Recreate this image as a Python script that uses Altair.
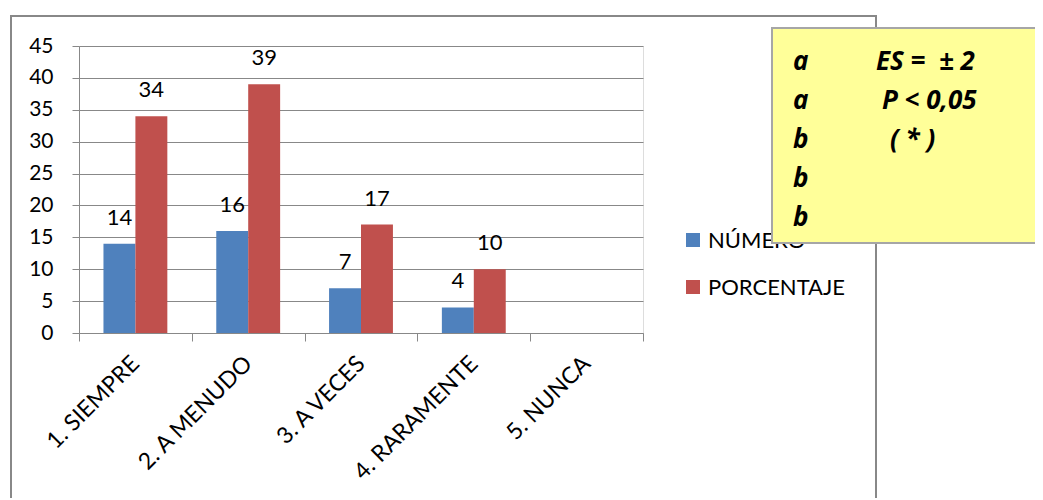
import altair as alt
import pandas as pd

# ---- data ----
categories = ["1. SIEMPRE", "2. A MENUDO", "3. A VECES", "4. RARAMENTE", "5. NUNCA"]
series = ["NÚMERO", "PORCENTAJE"]
numero = [14, 16, 7, 4, None]
porcentaje = [34, 39, 17, 10, None]
y_ticks = [0, 5, 10, 15, 20, 25, 30, 35, 40, 45]
box_letters = ["a", "a", "b", "b", "b"]
box_notes = ["ES =\u00a0\u00a0± 2", "P < 0,05", "( * )", "", ""]
colors = ["#4F81BD", "#C0504D"]

# styling (not data)
note_indent = [0, 6, 14, 0, 0]

rows = []
for i, c in enumerate(categories):
    for s, vals in zip(series, [numero, porcentaje]):
        if vals[i] is not None:
            rows.append({"cat": c, "serie": s, "valor": vals[i]})
df = pd.DataFrame(rows)

FONT = "Lato"
BOX_FONT = "Open Sans"
GRAY = "#888888"
W, H = 564, 287

x_enc = alt.X(
    "cat:N",
    sort=categories,
    scale=alt.Scale(domain=categories, paddingInner=0, paddingOuter=0),
    axis=alt.Axis(
        title=None, labelAngle=-45, labelFontSize=23, labelFont=FONT,
        labelColor="black", tickBand="extent", tickSize=8, tickColor=GRAY,
        domainColor=GRAY, labelPadding=11, labelOffset=-8, grid=False,
    ),
)
xoff_enc = alt.XOffset(
    "serie:N", scale=alt.Scale(domain=series, paddingOuter=0.766, paddingInner=0)
)
y_enc = alt.Y(
    "valor:Q",
    scale=alt.Scale(domain=[0, 45], nice=False, zero=True),
    axis=alt.Axis(
        title=None, values=y_ticks, grid=True, gridColor=GRAY, tickSize=7,
        tickColor=GRAY, domainColor=GRAY, labelFontSize=21, labelFont=FONT,
        labelColor="black", labelPadding=19,
    ),
)
color_enc = alt.Color(
    "serie:N", scale=alt.Scale(domain=series, range=colors), legend=None
)

one = pd.DataFrame({"k": [0]})

frame = alt.Chart(one).mark_rect(
    fill=None, stroke=GRAY, strokeWidth=2
).encode(
    x=alt.value(-68), x2=alt.value(797), y=alt.value(-30), y2=alt.value(470)
)

bars = alt.Chart(df).mark_bar().encode(
    x=x_enc, xOffset=xoff_enc, y=y_enc, color=color_enc
)

labels = alt.Chart(df).mark_text(
    dy=-26, fontSize=22, font=FONT, color="black"
).encode(x=x_enc, xOffset=xoff_enc, y=y_enc, text="valor:Q")

# manual legend (so the yellow note box can overlap it as in the original)
legend_layers = []
for i, (s, col) in enumerate(zip(series, colors)):
    legend_layers.append(
        alt.Chart(pd.DataFrame({"serie": [s]})).mark_square(
            size=196, color=col, opacity=1, filled=True
        ).encode(x=alt.value(614), y=alt.value(194 + 47 * i))
    )
    legend_layers.append(
        alt.Chart(pd.DataFrame({"serie": [s]})).mark_text(
            align="left", baseline="alphabetic", fontSize=22, font=FONT,
            color="black",
        ).encode(x=alt.value(629), y=alt.value(202 + 47 * i), text="serie:N")
    )

note_box = alt.Chart(one).mark_rect(
    fill="#FFFF99", stroke="#A6A6A6", strokeWidth=2
).encode(
    x=alt.value(693), x2=alt.value(990), y=alt.value(-18), y2=alt.value(197)
)

note_layers = []
for i, (letter, note) in enumerate(zip(box_letters, box_notes)):
    d = pd.DataFrame({"letra": [letter], "nota": [note]})
    note_layers.append(
        alt.Chart(d).mark_text(
            align="left", baseline="alphabetic", fontSize=26, font=BOX_FONT,
            fontWeight="bold", fontStyle="italic", color="black",
        ).encode(x=alt.value(714), y=alt.value(24 + 39 * i), text="letra:N")
    )
    if note:
        note_layers.append(
            alt.Chart(d).mark_text(
                align="left", baseline="alphabetic", fontSize=26, font=BOX_FONT,
                fontWeight="bold", fontStyle="italic", color="black",
                dx=note_indent[i],
            ).encode(x=alt.value(797), y=alt.value(24 + 39 * i), text="nota:N")
        )

chart = alt.layer(
    frame, bars, labels, *legend_layers, note_box, *note_layers
).properties(
    width=W, height=H,
    autosize=alt.AutoSizeParams(type="none"),
    padding={"left": 71, "top": 38, "right": 392, "bottom": 165},
).configure_view(stroke=None).configure(background="white")

chart.save("out.html", embed_options={"renderer": "svg", "actions": False})
